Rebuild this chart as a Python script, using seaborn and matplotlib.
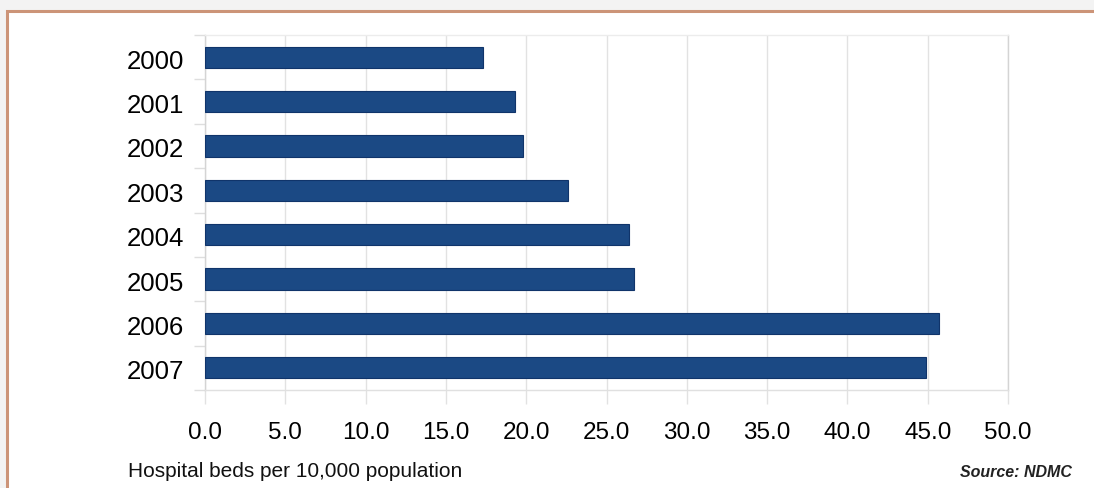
import matplotlib
matplotlib.use("Agg")
import matplotlib.pyplot as plt
import matplotlib.patches as mpatches
import matplotlib.transforms as mtransforms
from matplotlib.ticker import FixedLocator
import seaborn as sns
import pandas as pd

# Hospital beds per 10,000 population, by year
years = ["2000", "2001", "2002", "2003", "2004", "2005", "2006", "2007"]
beds = [17.3, 19.3, 19.8, 22.6, 26.4, 26.7, 45.7, 44.9]
x_ticks = [0, 5, 10, 15, 20, 25, 30, 35, 40, 45, 50]

df = pd.DataFrame({"year": years, "beds": beds})

sns.set_theme(style="white")
plt.rcParams["font.family"] = ["Liberation Sans", "DejaVu Sans"]

W, H = 1094, 488
fig = plt.figure(figsize=(W / 100, H / 100), dpi=100)
fig.patch.set_facecolor("#f3f3f3")

# framed white panel behind the chart
panel = mpatches.Rectangle((7 / W, -0.1), 1.2, (H - 11) / H + 0.1,
                           transform=fig.transFigure, facecolor="white",
                           edgecolor="#cc9478", linewidth=2.2, zorder=-5)
fig.patches.append(panel)

ax = fig.add_axes([205 / W, 1 - 390 / H, (1008 - 205) / W, (390 - 35) / H])
ax.set_facecolor("none")
ax.set_zorder(2)

sns.barplot(data=df, x="beds", y="year", orient="h", color="#1b4984",
            width=0.48, edgecolor="#10346a", linewidth=0.8, saturation=1,
            ax=ax, zorder=3)

ax.set_xlim(0, 50)
ax.set_ylim(7.5, -0.5)
ax.xaxis.set_major_locator(FixedLocator(x_ticks))
ax.set_xticklabels([f"{v:.1f}" for v in x_ticks])
ax.set_axisbelow(True)
ax.grid(axis="x", color="#e2e2e2", linewidth=1.0)
ax.grid(axis="y", visible=False)

# category boundary ticks on the left axis
ax.yaxis.set_minor_locator(FixedLocator([i + 0.5 for i in range(-1, 8)]))
ax.tick_params(axis="y", which="major", length=0, pad=15, labelsize=18.5,
               labelcolor="black")
ax.tick_params(axis="y", which="minor", length=8, width=1, color="#dedede",
               left=True)
ax.tick_params(axis="x", which="major", length=10, width=1, color="#e2e2e2",
               bottom=True, pad=13, labelsize=17.5, labelcolor="black")

# nudge year labels down a little so they sit level with the bars
shift = mtransforms.ScaledTranslation(0, -2 / 100, fig.dpi_scale_trans)
for lbl in ax.get_yticklabels():
    lbl.set_transform(lbl.get_transform() + shift)

for side in ["left", "top", "bottom", "right"]:
    ax.spines[side].set_visible(True)
    ax.spines[side].set_linewidth(1.0)
ax.spines["left"].set_color("#d4d4d4")
ax.spines["top"].set_color("#ececec")
ax.spines["bottom"].set_color("#e0e0e0")
ax.spines["right"].set_color("#d4d4d4")

ax.set_xlabel("")
ax.set_ylabel("")

fig.text(128 / W, 1 - 477 / H, "Hospital beds per 10,000 population",
         fontsize=15, color="#111111", ha="left", va="baseline")
fig.text(1072 / W, 1 - 477 / H, "Source: NDMC",
         fontsize=11.5, fontweight="bold", fontstyle="italic", color="#222222",
         ha="right", va="baseline")

fig.savefig("out.png", dpi=100, facecolor=fig.get_facecolor())
